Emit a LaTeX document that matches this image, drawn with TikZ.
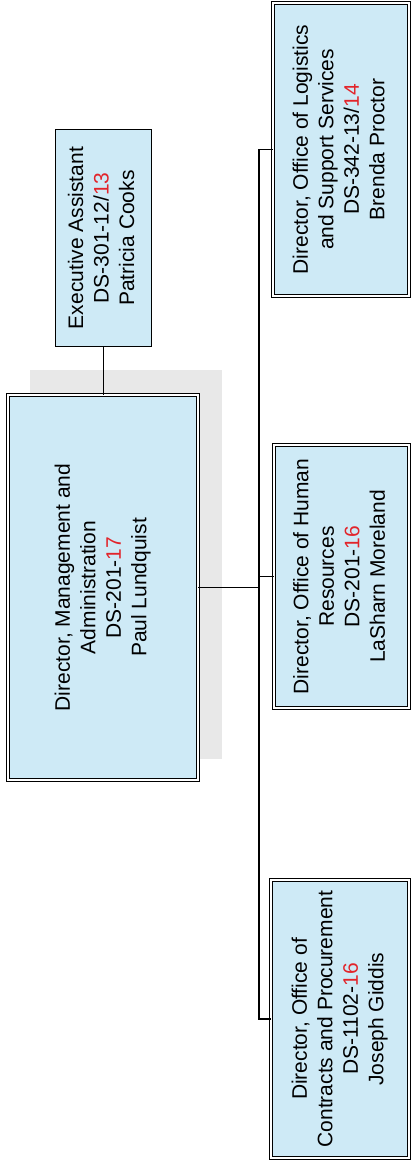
\documentclass[tikz,border=0pt]{standalone}
\usepackage{fontspec}
\setmainfont{Liberation Sans}
\usepackage{graphicx}
\definecolor{boxfill}{RGB}{206,234,246}
\definecolor{numred}{RGB}{226,36,42}
\definecolor{shadowgray}{RGB}{232,232,232}
\newcommand{\rtxt}[1]{\rotatebox{90}{\fontsize{21}{25.5}\selectfont\begin{tabular}{@{}c@{}}#1\end{tabular}}}
\newcommand{\rn}[1]{\textcolor{numred}{#1}}
\begin{document}
\begin{tikzpicture}[x=1pt,y=-1pt,
  dbox/.style={draw=black,fill=boxfill,line width=1.1pt,double=white,double distance=2pt,inner sep=0pt},
  sbox/.style={draw=black,fill=boxfill,line width=1.2pt,inner sep=0pt},
  conn/.style={draw=black,line width=1.2pt}]
\useasboundingbox (0,0) rectangle (412,1165);
% shadow behind main box
\fill[shadowgray] (30,370) rectangle (222,759);
\node[sbox,minimum width=96pt,minimum height=216.8pt] (exec) at (103.5,238)
  {\rtxt{Executive Assistant\\DS-301-12/\rn{13}\\Patricia Cooks}};
\node[dbox,minimum width=189.6pt,minimum height=384.6pt] (main) at (103,587.5)
  {\rtxt{Director, Management and\\Administration\\DS-201-\rn{17}\\Paul Lundquist}};
\node[dbox,minimum width=135.6pt,minimum height=292.6pt] (log) at (341,149.5)
  {\rtxt{Director, Office of Logistics\\and Support Services\\DS-342-13/\rn{14}\\Brenda Proctor}};
\node[dbox,minimum width=134.6pt,minimum height=262.6pt] (hr) at (341.5,576.5)
  {\rtxt{Director, Office of Human\\Resources\\DS-201-\rn{16}\\LaSharn Moreland}};
\node[dbox,minimum width=137.6pt,minimum height=277.6pt] (con) at (340,1019)
  {\rtxt{Director, Office of\\Contracts and Procurement\\DS-1102-\rn{16}\\Joseph Giddis}};
\coordinate (bus) at (259,0);
\draw[conn] (exec.south) -- (exec.south |- main.north);
\draw[conn] (main.east) -- (main.east -| bus);
\draw[conn] (log.west) -- (log.west -| bus) -- (con.west -| bus) -- (con.west);
\draw[conn] (hr.west) -- (hr.west -| bus);
\end{tikzpicture}
\end{document}
